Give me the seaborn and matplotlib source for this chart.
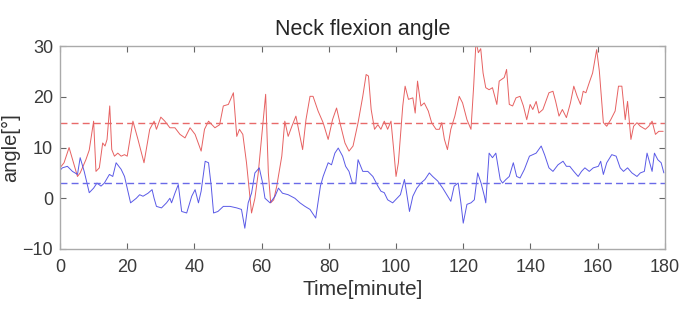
import matplotlib
matplotlib.use("Agg")
import matplotlib.pyplot as plt
import numpy as np
import pandas as pd
import seaborn as sns

# values (time in minutes, angle in degrees)
red_t = [0, 1.2, 2.7, 5.2, 6, 7.7, 8.7, 10, 10.7, 11.7, 12.7, 13.4, 14, 14.8, 15.4,
         16.2, 17.2, 18.2, 19.2, 20, 21.7, 23.2, 25, 26.7, 28, 28.7, 30, 31.2, 32.7,
         34.2, 35.7, 37.2, 38.7, 40.2, 42, 43, 44.2, 46.1, 47.5, 48.6, 50.1, 51.6,
         52.6, 53.4, 54.4, 55.5, 57, 58, 59, 60.5, 61.2, 62, 62.7, 63.6, 64.5, 66,
         66.9, 67.9, 69, 70.2, 71.2, 72.2, 73.2, 74.4, 75.3, 76.8, 78.3, 79.8, 81.1,
         82.3, 83.3, 84.8, 86, 87.2, 88.7, 90.1, 91.1, 91.8, 92.6, 93.6, 94.6, 95.5,
         96.5, 97.5, 98.5, 99.3, 100, 100.7, 102, 102.7, 103.7, 105, 105.7, 106.4,
         107.4, 108.4, 109.6, 110.6, 111.9, 112.9, 113.6, 114.4, 115.3, 116.3, 117.5,
         118.8, 119.8, 121.1, 122.3, 123.1, 123.8, 124.5, 125.2, 125.9, 126.7, 127.7,
         128.7, 130, 130.7, 132.2, 132.9, 133.7, 134.7, 135.7, 136.9, 137.9, 138.9,
         139.9, 140.7, 141.7, 142.5, 143.7, 145.5, 146.7, 147.5, 148.5, 149.5, 150.7,
         151.9, 152.9, 153.9, 154.9, 155.7, 156.5, 157.5, 158.5, 159.7, 160.5, 161.7,
         162.7, 163.9, 165.2, 166.2, 167.2, 168.2, 168.9, 169.9, 170.7, 171.7, 172.7,
         174.2, 175.2, 176.2, 177.2, 178.2, 179.5]
red_y = [6, 7, 10, 4.3, 5, 7.6, 9.5, 15.2, 5.3, 6, 10.9, 10.3, 11.6, 18.2, 9.6,
         8.3, 8.9, 8.3, 8.6, 8.3, 15.2, 11.6, 7, 13.6, 15.2, 13.6, 16, 15.2, 13.9,
         13.9, 12.6, 11.9, 13.9, 12.6, 9.3, 13.6, 15.2, 13.9, 14.5, 18.2, 18.5, 20.8,
         12.2, 13.6, 12.6, 7, -2.9, 0, 5, 15.5, 20.5, 5, -0.9, -0.3, 2.4, 8.3,
         15.2, 12.2, 14.2, 16.2, 12.9, 9.6, 15.5, 20.1, 20.1, 17.2, 14.9, 11.6, 15.5,
         17.8, 14.9, 10.9, 9.3, 10.3, 14.9, 20.1, 24.4, 24.1, 17.5, 13.6, 14.5, 13.6,
         15.2, 13.6, 15.2, 9.6, 4.3, 7, 18.2, 22.1, 19.5, 19.8, 16.8, 23.1,
         18.2, 18.8, 17.2, 14.9, 13.6, 13.6, 14.9, 11.6, 9.6, 13.6, 16.2,
         20.1, 18.8, 15.5, 13.6, 22.1, 31, 28.7, 29.5, 24.7, 21.8, 21.4,
         21.8, 18.5, 23.1, 23.8, 25.4, 18.5, 18.2, 19.8, 20.1, 18.2, 15.5,
         18.5, 17.5, 19.1, 16.8, 17.5, 20.8, 21.1, 19.1, 16.2, 17.5, 15.9,
         18.8, 22.1, 20.1, 18.5, 21.1, 20.8, 22.8, 24.7, 29.3, 25.1, 14.9,
         14.2, 15.5, 17.2, 22.1, 22.1, 15.5, 19.1, 11.6, 14.2, 14.9, 14.2,
         13.6, 14.2, 15.2, 12.6, 13.2, 13.2]

blue_t = [0, 0.7, 2.2, 3.7, 5.2, 6, 7.2, 8.7, 10, 11, 12.2, 13.2, 14.7, 15.7, 16.7,
          18.2, 19.2, 21, 22.7, 23.7, 24.7, 26.2, 27.4, 28, 28.7, 30.2, 31.7, 32.7,
          33.2, 34.2, 35.2, 36.2, 37.7, 39.2, 40.2, 41.2, 42, 43.2, 44.2, 45, 45.7,
          47, 48.6, 50.6, 52.6, 54, 55, 56, 57, 58, 59.3, 60.3, 61, 62.5, 64, 65,
          66.2, 67.9, 69.9, 71.4, 72.9, 74.4, 76.1, 77.5, 78.3, 79.8, 80.8, 81.8,
          82.8, 84.1, 85, 86, 87, 88, 88.7, 90.1, 91.6, 93.1, 94.6, 95.5, 96.5,
          97.5, 99, 100.3, 101.3, 102.5, 103, 104, 105, 106.2, 107.4, 108.6, 109.9,
          110.9, 112.4, 113.9, 115.1, 116.3, 117.3, 118.5, 119.3, 120, 121.1, 122.3,
          123.3, 124.3, 125.3, 126.3, 126.7, 127.7, 128.7, 129.7, 131, 131.7, 132.7,
          133.7, 134.9, 135.9, 136.9, 138.2, 139.7, 141.7, 143.2, 144.2, 145.5,
          146.7, 148.2, 149.7, 150.7, 151.7, 152.9, 154.2, 155.2, 156.2, 157.5,
          158.7, 160.2, 160.9, 161.7, 162.7, 164.2, 165.5, 166.7, 167.7, 168.9,
          170.2, 171.7, 172.7, 173.9, 174.7, 175.5, 176.2, 176.9, 177.9, 178.9, 179.7]
blue_y = [5.5, 6, 6.3, 5.3, 4.7, 8, 5.3, 1.1, 2, 3, 2.4, 3, 4.7, 4.3, 7,
          5.7, 4.3, -0.9, 0, 0.7, 0.4, 1, 1.7, 0, -1.6, -1.9, -0.9, 0,
          -0.9, 1, 2.7, -2.6, -2.9, 0.4, 1.7, -0.9, 1.4, 7.3, 7, 2.4, -2.9,
          -2.6, -1.6, -1.6, -1.9, -2.2, -5.9, -0.9, 1, 5, 6, 3, 0, -0.9, 0.4, 2,
          1, 0.7, 0, -0.9, -1.6, -2.2, -3.9, 2.4, 4.3, 7, 6.6, 8.9,
          9.9, 8.3, 6.3, 5.3, 3, 3, 7.6, 5.3, 5.3, 4.3, 2.4, 1.4, 1.1,
          -0.3, -0.9, 0, 0.7, 3.7, 1.7, -2.6, 0.4, 2, 3, 3.7, 5,
          4.3, 3.4, 2, 0.7, -0.6, 2.4, 3, -0.9, -4.9, -1.2, -0.9,
          -0.3, 5, 3, 0.4, -0.9, 8.9, 8, 8.9, 3.7, 3, 3.7,
          4.3, 7, 4.3, 4, 5.7, 8.3, 8.9, 10.3, 8.6, 6,
          5.3, 6.6, 7.3, 6.3, 6.3, 5.3, 4.3, 5.3, 6, 5.3,
          6, 6.3, 7.3, 4.7, 7, 8.6, 8.3, 6, 5.3, 6,
          5, 4.3, 5, 5.3, 8.9, 7, 5.3, 8.9, 7.6, 7, 5]

red_mean = 14.8
blue_mean = 3.0

x_ticks = [0, 20, 40, 60, 80, 100, 120, 140, 160, 180]
y_ticks = [-10, 0, 10, 20, 30]

red_df = pd.DataFrame({"time": red_t, "angle": red_y})
blue_df = pd.DataFrame({"time": blue_t, "angle": blue_y})

sns.set_style("white")
plt.rcParams["font.family"] = ["Liberation Sans", "DejaVu Sans"]

fig = plt.figure(figsize=(6.85, 3.18), dpi=100)
ax = fig.add_axes([0.0876, 0.217, 0.883, 0.638])

red = "#e45050"
blue = "#4848e4"
sns.lineplot(data=red_df, x="time", y="angle", ax=ax, color=red, lw=0.7, alpha=0.9)
sns.lineplot(data=blue_df, x="time", y="angle", ax=ax, color=blue, lw=0.7, alpha=0.9)
ax.axhline(red_mean, color="#e86a6a", lw=1.0, ls=(0, (5, 3)))
ax.axhline(blue_mean, color="#6a6ae8", lw=1.0, ls=(0, (5, 3)))

ax.set_xlim(0, 180)
ax.set_ylim(-10, 30)
ax.set_xticks(x_ticks)
ax.set_yticks(y_ticks)
ax.tick_params(direction="in", length=4, width=0.8, color="#666666",
               labelsize=13, labelcolor="#3a3a3a", top=True, right=True,
               left=True, bottom=True)
ax.tick_params(axis="x", pad=7)
ax.tick_params(axis="y", pad=5)
for s in ax.spines.values():
    s.set_color("#aaaaaa")
    s.set_linewidth(1.0)

ax.set_title("Neck flexion angle", fontsize=15.5, color="#262626", pad=8)
ax.set_xlabel("Time[minute]", fontsize=15, color="#333333", labelpad=3)
ax.set_ylabel("angle[°]", fontsize=14.5, color="#333333")
ax.yaxis.set_label_coords(-0.066, 0.5)

fig.savefig("out.png", dpi=100)
